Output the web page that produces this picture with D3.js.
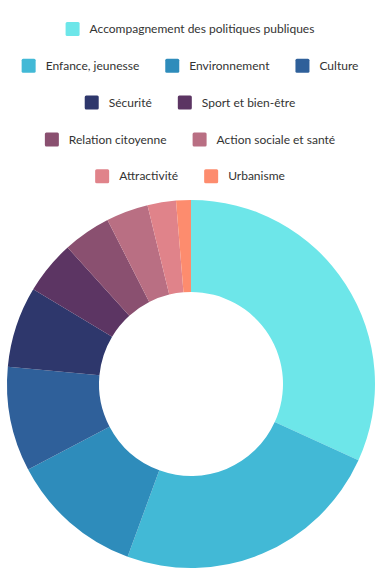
<!DOCTYPE html>
<meta charset="utf-8">
<script src="https://d3js.org/d3.v7.min.js"></script>
<style>
  body { margin: 0; background: #fff; }
  svg { display: block; font-family: Lato, sans-serif; }
</style>
<body>
<svg id="chart" width="380" height="576"></svg>
<script>
// categories, shares (%) and colours
var labels = ["Accompagnement des politiques publiques", "Enfance, jeunesse", "Environnement",
  "Culture", "Sécurité", "Sport et bien-être", "Relation citoyenne",
  "Action sociale et santé", "Attractivité", "Urbanisme"]
var values = [31.8, 23.8, 11.7, 9.2, 7.1, 4.7, 4.2, 3.7, 2.5, 1.3]
var colors = ["#6de6e9", "#42b9d6", "#2e8cbb", "#2f609a", "#2e376c",
  "#5c3563", "#8a5070", "#b96f83", "#e0838a", "#fd8c6e"]

var W = 380, H = 576
var svg = d3.select("#chart")

var color = d3.scaleOrdinal().domain(labels).range(colors)

// legend: items flow in centered rows
var sq = 14, pad = 10, gap = 26, maxW = 350, rowH = 36.8, firstY = 29
var legend = svg.append("g")
var items = labels.map(function(l){
  var g = legend.append("g")
  g.append("rect").attr("width", sq).attr("height", sq).attr("y", -sq/2)
    .attr("rx", 1.5).attr("fill", color(l))
  var t = g.append("text").attr("x", sq + pad).attr("dy", "0.35em")
    .attr("font-size", 12).attr("fill", "#333").text(l)
  return {g: g, w: sq + pad + t.node().getComputedTextLength()}
})
var rows = [[]], rw = 0
items.forEach(function(it){
  var row = rows[rows.length-1]
  if (row.length && rw + gap + it.w > maxW) { rows.push([it]); rw = it.w }
  else { rw += (row.length ? gap : 0) + it.w; row.push(it) }
})
rows.forEach(function(row, i){
  var tot = d3.sum(row, function(d){ return d.w }) + gap*(row.length-1)
  var x = (W - tot)/2
  row.forEach(function(it){
    it.g.attr("transform", "translate(" + x + "," + (firstY + i*rowH) + ")")
    x += it.w + gap
  })
})

// donut
var R = 184, r0 = 92
var pie = d3.pie().sort(null).value(function(d){ return d })
var arc = d3.arc().innerRadius(r0).outerRadius(R)
svg.append("g").attr("transform", "translate(191,384)")
  .selectAll("path").data(pie(values)).enter().append("path")
  .attr("d", arc)
  .attr("fill", function(d, i){ return color(labels[i]) })
</script>
</body>
